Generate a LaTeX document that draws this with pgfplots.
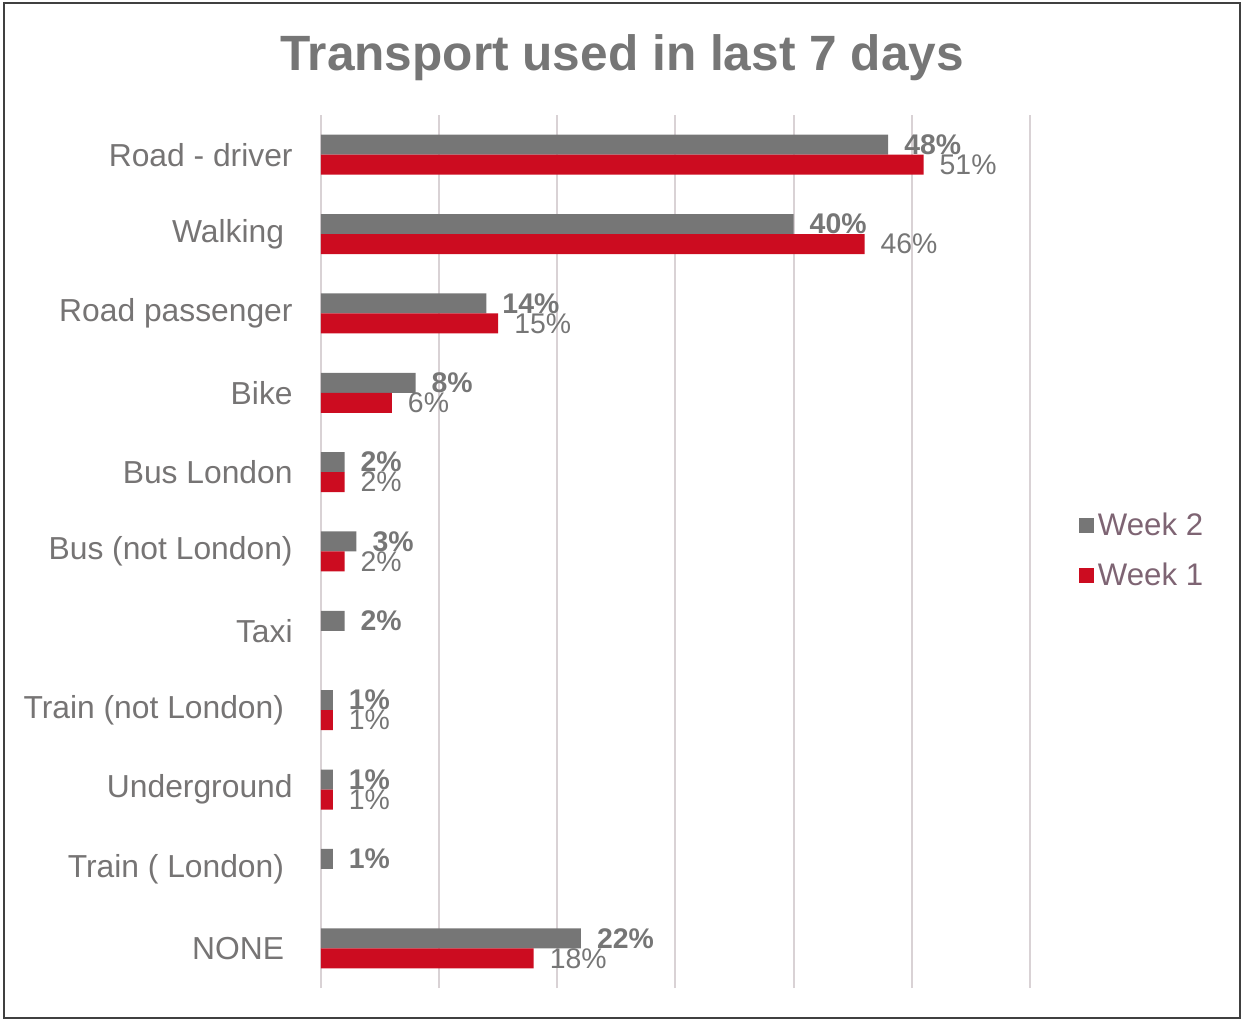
\documentclass[border=0pt]{standalone}
\usepackage{pgfplots}
\pgfplotsset{compat=1.18}
\usepackage{fontspec}
\setmainfont{Liberation Sans}
\definecolor{barGray}{RGB}{118,118,118}
\definecolor{barRed}{RGB}{204,12,32}
\definecolor{txtGray}{RGB}{118,116,116}
\definecolor{legTxt}{RGB}{126,100,115}
\definecolor{gridC}{RGB}{217,210,213}
\begin{document}
\begin{tikzpicture}
% page bounds and outer frame (1px = 0.5pt, plot origin at px 321,988)
\path (-160.5pt,-15.5pt) rectangle (461pt,494pt);
\draw[line width=1pt,color=black!75] (-158.5pt,-15pt) rectangle (459.5pt,492.5pt);
\node[font=\bfseries\fontsize{24.8}{28}\selectfont,text=barGray] at (150.5pt,465pt) {Transport used in last 7 days};
\begin{axis}[xbar,at={(0,0)},anchor=south west,scale only axis,
 width=354.5pt,height=436.5pt,xmin=0,xmax=60,ymin=-0.5,ymax=10.5,
 axis line style={draw=none},xtick={0,10,...,60},xticklabels={},
 xmajorgrids,grid style={gridC,line width=1pt},major tick length=0pt,
 ytick={0,...,10},
 yticklabels={NONE\kern4.3pt,Train ( London)\kern4.3pt,Underground,Train (not London)\kern4.3pt,Taxi,Bus (not London),Bus London,Bike,Road passenger,Walking\kern4.3pt,Road - driver},
 yticklabel style={font=\fontsize{15.9}{18}\selectfont,text=txtGray,inner sep=0pt,xshift=-14pt},
 bar width=10pt,point meta=x,
 nodes near coords={\pgfmathprintnumber[assume math mode=true]{\pgfplotspointmeta}\%},
 every node near coord/.append style={font=\fontsize{14.2}{16}\selectfont,text=barGray,xshift=4.5pt},
 legend style={at={(1.06,0.501)},anchor=west,draw=none,fill=none,
  font=\fontsize{15.6}{18}\selectfont,text=legTxt,row sep=8.5pt},
 legend cell align=left,
 legend image code/.code={\fill[#1] (-2pt,-3.75pt) rectangle (5.5pt,3.75pt);}]
\addplot[fill=barGray,draw=none,bar shift=5pt,every node near coord/.append style={font=\fontsize{14.2}{16}\selectfont\bfseries}] coordinates {
 (48,10) (40,9) (14,8) (8,7) (2,6) (3,5) (2,4) (1,3) (1,2) (1,1) (22,0)};
\addlegendentry{Week 2}
\addplot[fill=barRed,draw=none,bar shift=-5pt] coordinates {
 (51,10) (46,9) (15,8) (6,7) (2,6) (2,5) (1,3) (1,2) (18,0)};
\addlegendentry{Week 1}
\end{axis}
\end{tikzpicture}
\end{document}
